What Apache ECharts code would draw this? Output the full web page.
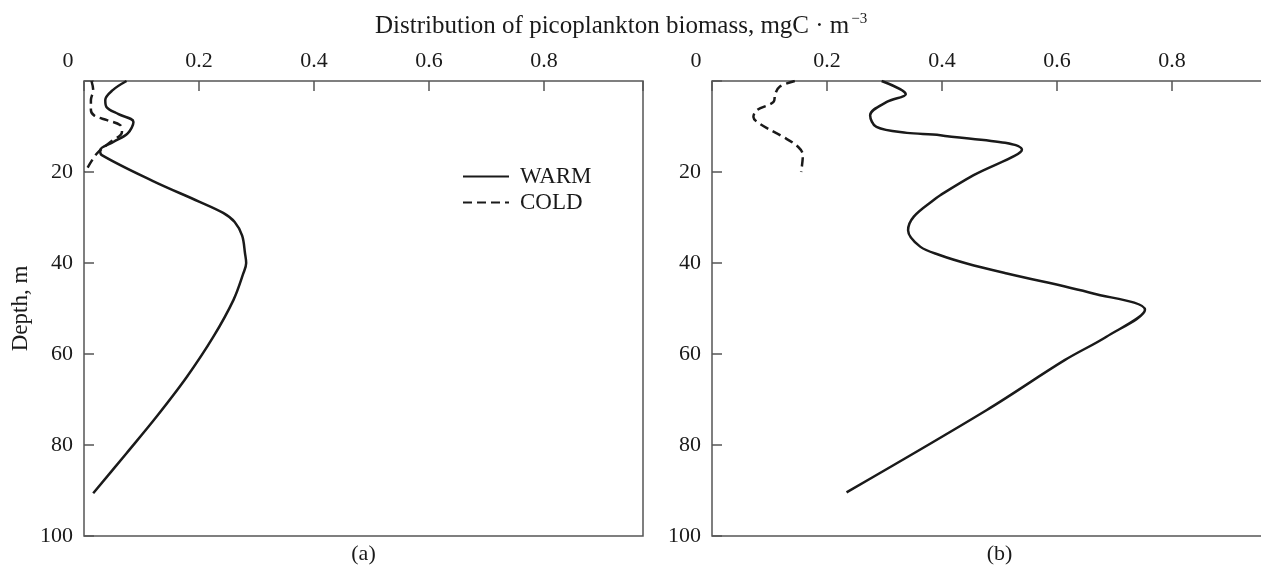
<!DOCTYPE html>
<html>
<head>
<meta charset="utf-8">
<title>Picoplankton biomass</title>
<script src="https://cdn.jsdelivr.net/npm/echarts@6/dist/echarts.min.js"></script>
<style>
  html, body { margin: 0; padding: 0; background: #fff; }
  #chart { width: 1261px; height: 571px; }
</style>
</head>
<body>
<div id="chart"></div>
<script>
// depth (m) and biomass (mgC m-3)
const depthWarmA = [0, 2, 4.2, 5.7, 7.3, 9, 11.5, 13.4, 15.2, 16.3, 22, 26.5, 29, 31, 34, 37.9, 40, 42.3, 48.1, 56.2, 65, 73.8, 81.8, 90.6];
const biomassWarmA = [0.074, 0.05, 0.037, 0.039, 0.06, 0.086, 0.076, 0.051, 0.028, 0.031, 0.12, 0.2, 0.242, 0.262, 0.275, 0.28, 0.282, 0.277, 0.26, 0.225, 0.179, 0.126, 0.074, 0.016];

const depthColdA = [0, 2, 4.2, 6.4, 7.6, 8.6, 9.7, 11.2, 13.5, 16, 20];
const biomassColdA = [0.013, 0.016, 0.012, 0.012, 0.018, 0.04, 0.063, 0.066, 0.045, 0.022, 0.002];

const depthWarmB = [0, 2.9, 4.6, 7.5, 10.1, 11.4, 11.9, 15.1, 20.7, 25.1, 26.2, 29.8, 32.8, 36.4, 38.3, 40.1, 42.3, 46.7, 50.3, 56.2, 61.3, 72.3, 90.4];
const biomassWarmB = [0.295, 0.337, 0.304, 0.275, 0.286, 0.339, 0.397, 0.539, 0.455, 0.397, 0.385, 0.351, 0.341, 0.362, 0.397, 0.443, 0.513, 0.663, 0.753, 0.686, 0.614, 0.478, 0.234];

const depthColdB = [0, 1.2, 2.8, 4.6, 6.4, 7.9, 9.4, 12.3, 14.5, 16.3, 20];
const biomassColdB = [0.144, 0.118, 0.11, 0.107, 0.078, 0.072, 0.083, 0.124, 0.15, 0.158, 0.155];

const xTicks = [0, 0.2, 0.4, 0.6, 0.8];
const yTicks = [20, 40, 60, 80, 100];

const FONT = "'Liberation Serif', 'DejaVu Serif', serif";
const INK = '#1a1a1a';
const AXIS = '#555';

function pairs(vals, depths) {
  return vals.map((v, i) => [v, depths[i]]);
}

function xLabel(v) {
  if (Math.abs(v) < 1e-9) return '{z|0}';
  const hit = xTicks.find(t => Math.abs(t - v) < 1e-6);
  return hit !== undefined ? hit.toFixed(1) : '';
}

function yLabel(v) {
  return yTicks.indexOf(v) >= 0 ? String(v) : '';
}

function topAxis(grid, max) {
  return {
    type: 'value', gridIndex: grid, position: 'top',
    min: 0, max: max, interval: 0.2,
    axisLine: { show: false },
    axisTick: { show: true, inside: true, length: 10, lineStyle: { color: AXIS, width: 1.5 } },
    splitLine: { show: false },
    axisLabel: {
      formatter: xLabel, margin: 9, fontFamily: FONT, fontSize: 22, color: INK,
      rich: { z: { fontFamily: FONT, fontSize: 22, color: INK, padding: [0, 32, 0, 0] } }
    }
  };
}

function bottomAxis(grid, max, name) {
  return {
    type: 'value', gridIndex: grid, position: 'bottom',
    min: 0, max: max,
    axisLine: { show: false }, axisTick: { show: false },
    axisLabel: { show: false }, splitLine: { show: false },
    name: name, nameLocation: 'middle', nameGap: 7,
    nameTextStyle: { fontFamily: FONT, fontSize: 22, color: INK }
  };
}

function leftAxis(grid, name) {
  return {
    type: 'value', gridIndex: grid, inverse: true,
    min: 0, max: 100, interval: 20,
    axisLine: { show: false },
    axisTick: { show: true, inside: true, length: 10, lineStyle: { color: AXIS, width: 1.5 } },
    splitLine: { show: false },
    axisLabel: { formatter: yLabel, margin: 11, fontFamily: FONT, fontSize: 22, color: INK },
    name: name, nameLocation: 'middle', nameGap: 52,
    nameTextStyle: { fontFamily: FONT, fontSize: 23, color: INK }
  };
}

function line(name, data, dashed, xi, yi) {
  return {
    name: name, type: 'line', xAxisIndex: xi, yAxisIndex: yi,
    data: data, showSymbol: false, symbol: 'none', smooth: 0.35,
    lineStyle: { color: INK, width: 2.5, type: dashed ? [9, 5] : 'solid' },
    itemStyle: { color: INK },
    animation: false
  };
}

const chart = echarts.init(document.getElementById('chart'), null, { renderer: 'canvas' });

chart.setOption({
  backgroundColor: '#fff',
  animation: false,
  title: {
    text: 'Distribution of picoplankton biomass, mgC · m{sup|−3}',
    left: 370, top: 7,
    textStyle: {
      fontFamily: FONT, fontSize: 25, fontWeight: 'normal', color: INK,
      rich: { sup: { fontFamily: FONT, fontSize: 15, color: INK, padding: [0, 0, 14, 2] } }
    }
  },
  legend: {
    left: 457, top: 160, orient: 'vertical',
    itemWidth: 46, itemHeight: 14, itemGap: 3,
    data: ['WARM', 'COLD'],
    itemStyle: { opacity: 0 },
    textStyle: { fontFamily: FONT, fontSize: 23, color: INK, padding: [0, 0, 0, 6] },
    selectedMode: false
  },
  grid: [
    { left: 84, top: 81, width: 559, height: 455, show: true, borderColor: AXIS, borderWidth: 1.5, backgroundColor: 'transparent', outerBoundsMode: 'none' },
    { left: 712, top: 81, width: 575, height: 455, show: true, borderColor: AXIS, borderWidth: 1.5, backgroundColor: 'transparent', outerBoundsMode: 'none' }
  ],
  xAxis: [
    topAxis(0, 0.972),
    topAxis(1, 1.0),
    bottomAxis(0, 0.972, '(a)'),
    bottomAxis(1, 1.0, '(b)')
  ],
  yAxis: [
    leftAxis(0, 'Depth, m'),
    leftAxis(1, '')
  ],
  series: [
    line('WARM', pairs(biomassWarmA, depthWarmA), false, 0, 0),
    line('COLD', pairs(biomassColdA, depthColdA), true, 0, 0),
    line('WARM', pairs(biomassWarmB, depthWarmB), false, 1, 1),
    line('COLD', pairs(biomassColdB, depthColdB), true, 1, 1)
  ]
});
</script>
</body>
</html>
